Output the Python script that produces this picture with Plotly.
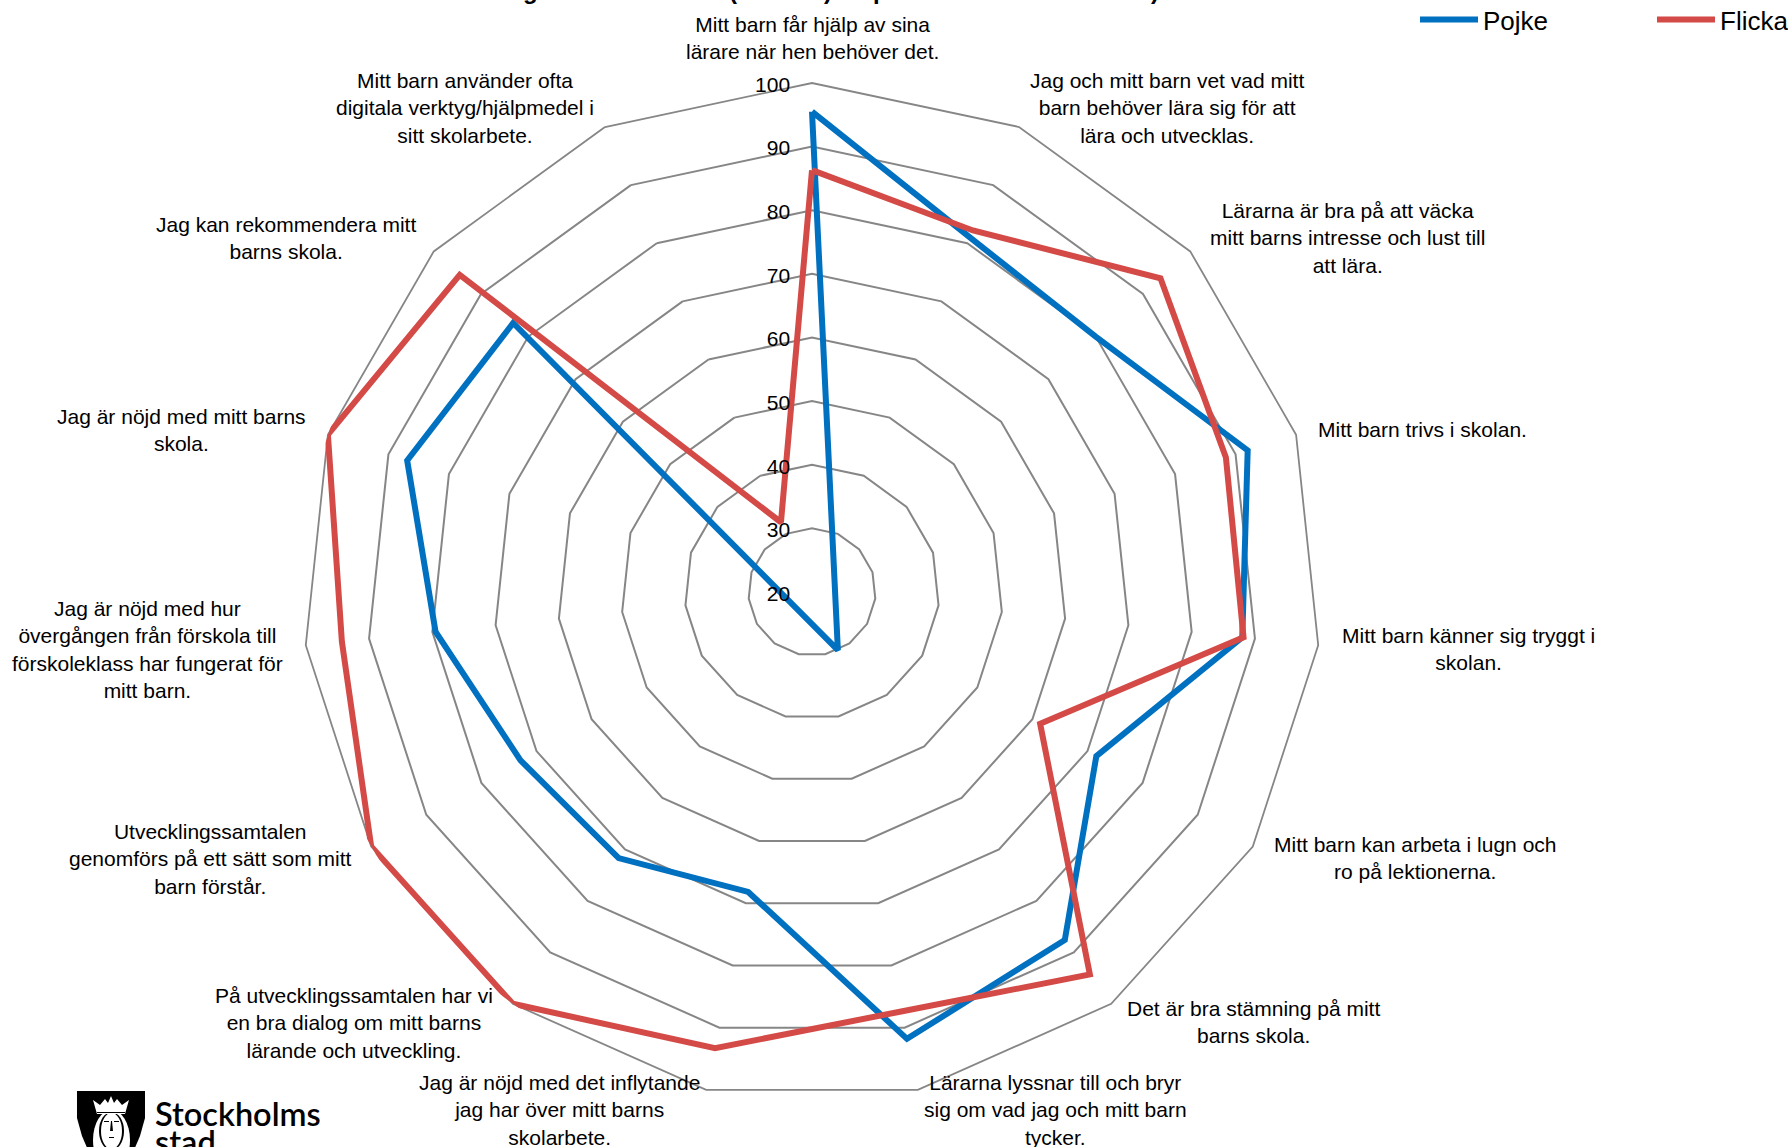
import plotly.graph_objects as go

W, H = 1788, 1147

questions = [
    "Mitt barn får hjälp av sina<br>lärare när hen behöver det.",
    "Jag och mitt barn vet vad mitt<br>barn behöver lära sig för att<br>lära och utvecklas.",
    "Lärarna är bra på att väcka<br>mitt barns intresse och lust till<br>att lära.",
    "Mitt barn trivs i skolan.",
    "Mitt barn känner sig tryggt i<br>skolan.",
    "Mitt barn kan arbeta i lugn och<br>ro på lektionerna.",
    "Det är bra stämning på mitt<br>barns skola.",
    "Lärarna lyssnar till och bryr<br>sig om vad jag och mitt barn<br>tycker.",
    "Jag är nöjd med det inflytande<br>jag har över mitt barns<br>skolarbete.",
    "På utvecklingssamtalen har vi<br>en bra dialog om mitt barns<br>lärande och utveckling.",
    "Utvecklingssamtalen<br>genomförs på ett sätt som mitt<br>barn förstår.",
    "Jag är nöjd med hur<br>övergången från förskola till<br>förskoleklass har fungerat för<br>mitt barn.",
    "Jag är nöjd med mitt barns<br>skola.",
    "Jag kan rekommendera mitt<br>barns skola.",
    "Mitt barn använder ofta<br>digitala verktyg/hjälpmedel i<br>sitt skolarbete.",
]
pojke = [95.5, 81, 80, 92, 88, 71.6, 87.6, 91.8, 68.2, 71.7, 72.9, 79.5, 86.9, 83.2, 10]
flicka = [86.3, 82.2, 93.7, 88.4, 88.2, 61.4, 94.3, 87.4, 93.3, 100, 100, 94.3, 100, 94.5, 32]

BLUE = "#0070C0"
RED = "#D44A47"
GRID = "#868686"
FONT = "Liberation Sans"

CX, CY, R = 812, 592, 509
AXIS_MIN, AXIS_MAX = 20, 100
STEP = 360 / len(questions)


def px(x):
    return x / W


def py(y):
    return 1 - y / H


def spoke_coords(values):
    """A value under the axis minimum runs through the centre to the opposite side."""
    rs, thetas = [], []
    for i, v in enumerate(values):
        if v < AXIS_MIN:
            rs.append(2 * AXIS_MIN - v)
            thetas.append((i * STEP + 180) % 360)
        else:
            rs.append(v)
            thetas.append(i * STEP)
    return rs + rs[:1], thetas + thetas[:1]


fig = go.Figure()
# category trace that carries the polygon grid
fig.add_trace(go.Scatterpolar(
    r=flicka, theta=questions, mode="lines", subplot="polar",
    line=dict(color="rgba(0,0,0,0)", width=0), showlegend=False, hoverinfo="skip",
))
for name, vals, col in [("Pojke", pojke, BLUE), ("Flicka", flicka, RED)]:
    rs, thetas = spoke_coords(vals)
    fig.add_trace(go.Scatterpolar(
        r=rs, theta=thetas, mode="lines", name=name, subplot="polar2",
        cliponaxis=False,
        line=dict(color=col, width=6, shape="linear"),
        hoverinfo="skip",
    ))
# top subplot that only shows the radial tick labels, above the lines
fig.add_trace(go.Scatterpolar(
    r=flicka, theta=[i * STEP for i in range(len(flicka))], mode="lines", subplot="polar3",
    line=dict(color="rgba(0,0,0,0)", width=0), showlegend=False, hoverinfo="skip",
))

# label block centres in page pixels
label_xy = [(812, 38), (1167, 108), (1347, 238), (1422, 430), (1468, 649),
            (1415, 858), (1253, 1022), (1055, 1110), (559, 1110), (354, 1023),
            (210, 859), (147, 649), (181, 430), (286, 238), (465, 108)]
annotations = [
    dict(text=q, x=px(x), y=py(y), xref="paper", yref="paper", xanchor="center",
         yanchor="middle", showarrow=False, align="center",
         font=dict(family=FONT, size=21, color="#000000"))
    for q, (x, y) in zip(questions, label_xy)
]

# the only legible bits of the cropped heading at the top edge
for s, x in [("g", 530), ("(", 733), (")", 828), ("p", 880), (")", 1155)]:
    annotations.append(dict(text=s, x=px(x), y=py(-10), xref="paper", yref="paper",
                            xanchor="center", yanchor="middle", showarrow=False,
                            font=dict(family=FONT, size=24, color="#000000", weight=700)))

annotations.append(dict(text="Stockholms", x=px(153), y=py(1113), xref="paper", yref="paper",
                        xanchor="left", yanchor="middle", showarrow=False,
                        font=dict(family="Lato", size=32.5, color="#000000", weight=600)))
annotations.append(dict(text="stad", x=px(153), y=py(1141), xref="paper", yref="paper",
                        xanchor="left", yanchor="middle", showarrow=False,
                        font=dict(family="Lato", size=32.5, color="#000000", weight=600)))


def path(points):
    return "M " + " L ".join(f"{px(x):.5f} {py(y):.5f}" for x, y in points) + " Z"


def blob(col, pts):
    return dict(type="path", xref="paper", yref="paper", path=path(pts),
                fillcolor=col, line=dict(width=0), layer="above")


def oval(col, x0, y0, x1, y1):
    return dict(type="circle", xref="paper", yref="paper", x0=px(x0), x1=px(x1),
                y0=py(y1), y1=py(y0), fillcolor=col, line=dict(width=0), layer="above")


shapes = [
    blob("#000000", [(77, 1091), (145, 1091), (145, 1118), (140, 1136), (134, 1150), (88, 1150), (82, 1136), (77, 1118)]),
    oval("#FFFFFF", 93, 1110, 130, 1170),
    oval("#000000", 99, 1112, 124, 1150),
    oval("#FFFFFF", 101, 1113, 122, 1149),
    blob("#FFFFFF", [(93, 1100), (100, 1105), (105, 1099), (108, 1103), (111, 1096), (114, 1103), (117, 1099), (122, 1105), (129, 1100), (125, 1114), (97, 1114)]),
    blob("#000000", [(97, 1112), (125, 1112), (125, 1113), (97, 1113)]),
    blob("#000000", [(104, 1121), (109, 1121), (109, 1122), (104, 1122)]),
    blob("#000000", [(114, 1121), (119, 1121), (119, 1122), (114, 1122)]),
    blob("#000000", [(111, 1121), (112, 1121), (113, 1131), (110, 1131)]),
    blob("#000000", [(109, 1137), (114, 1137), (114, 1138), (109, 1138)]),
]

domain = dict(x=[px(CX - R), px(CX + R)], y=[py(CY + R), py(CY - R)])
label_domain = dict(x=domain["x"], y=[py(CY + 2 + R), py(CY + 2 - R)])

fig.update_layout(
    width=W, height=H, autosize=False,
    margin=dict(l=0, r=0, t=0, b=0, pad=0, autoexpand=False),
    paper_bgcolor="#FFFFFF",
    font=dict(family=FONT, size=20, color="#000000"),
    polar=dict(
        domain=domain,
        bgcolor="#FFFFFF",
        gridshape="linear",
        radialaxis=dict(
            range=[AXIS_MIN, AXIS_MAX], tick0=20, dtick=10, angle=90,
            showline=False, showgrid=True, gridcolor=GRID, gridwidth=1.6,
            ticks="", showticklabels=False,
        ),
        angularaxis=dict(
            direction="clockwise", rotation=90, type="category",
            categoryorder="array", categoryarray=questions,
            showgrid=False, showticklabels=False, ticks="",
            showline=True, linecolor=GRID, linewidth=1.8,
        ),
    ),
    polar2=dict(
        domain=domain,
        bgcolor="rgba(0,0,0,0)",
        radialaxis=dict(range=[AXIS_MIN, AXIS_MAX], visible=False),
        angularaxis=dict(direction="clockwise", rotation=90, thetaunit="degrees", visible=False),
    ),
    polar3=dict(
        domain=label_domain,
        bgcolor="rgba(0,0,0,0)",
        radialaxis=dict(
            range=[AXIS_MIN, AXIS_MAX], tick0=20, dtick=10, angle=90, tickangle=90,
            side="counterclockwise", showline=False, showgrid=False,
            ticks="outside", ticklen=14, tickcolor="rgba(0,0,0,0)",
            tickfont=dict(family=FONT, size=21, color="#000000"),
        ),
        angularaxis=dict(direction="clockwise", rotation=90, thetaunit="degrees", visible=False),
    ),
    showlegend=True,
    legend=dict(orientation="h", x=px(1415), xanchor="left", y=py(-4), yanchor="top",
                itemwidth=58, entrywidth=164, entrywidthmode="pixels", traceorder="normal",
                bgcolor="rgba(0,0,0,0)", font=dict(family=FONT, size=26, color="#000000"),
                itemclick=False, itemdoubleclick=False),
    annotations=annotations,
    shapes=shapes,
)

fig.write_html("out.html", config={"displayModeBar": False},
               post_script="document.body.style.margin='0';")
